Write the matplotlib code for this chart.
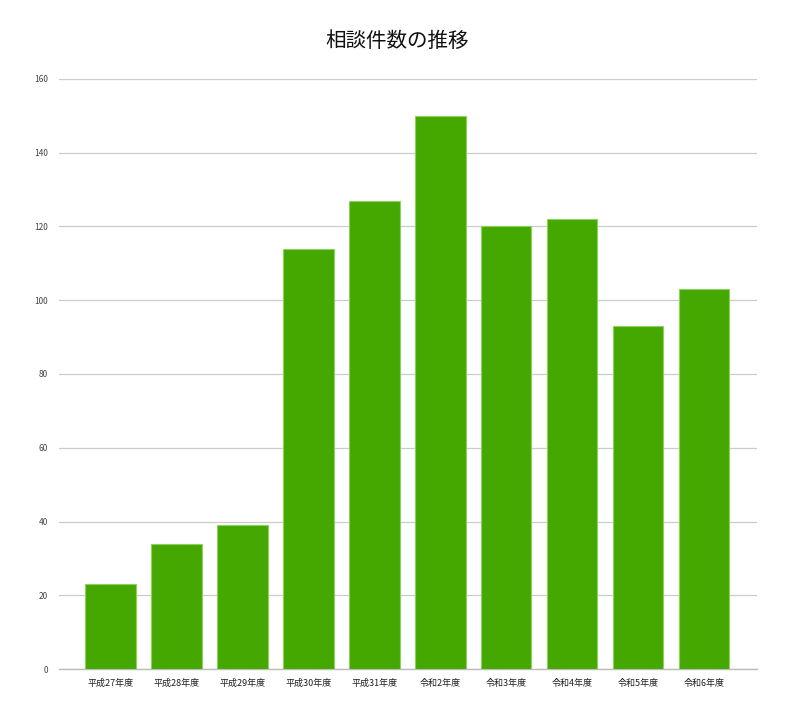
import matplotlib
matplotlib.use("Agg")
import matplotlib.pyplot as plt

plt.rcParams['font.family'] = ['Noto Sans CJK JP', 'DejaVu Sans']

years = ['平成27年度', '平成28年度', '平成29年度', '平成30年度', '平成31年度',
         '令和2年度', '令和3年度', '令和4年度', '令和5年度', '令和6年度']
counts = [23, 34, 39, 114, 127, 150, 120, 122, 93, 103]
yticks = [0, 20, 40, 60, 80, 100, 120, 140, 160]

fig = plt.figure(figsize=(7.94, 7.14), dpi=100)
ax = fig.add_axes([0.0743, 0.063, 0.8787, 0.8264])

x = range(len(years))
ax.bar(x, counts, width=0.77, color='#44a800', edgecolor='#8fd15c', linewidth=0.8, zorder=3)

ax.set_xlim(-0.78, 9.8)
ax.set_ylim(0, 160)
ax.set_yticks(yticks)
ax.set_xticks(list(x))
ax.set_xticklabels(years, fontsize=6.5, color='#222222')
ax.tick_params(axis='y', labelsize=6, colors='#444444', length=0, pad=8)
ax.tick_params(axis='x', length=0, pad=7)

ax.grid(axis='y', color='#cccccc', linewidth=0.9, zorder=0)
for s in ['top', 'right', 'left']:
    ax.spines[s].set_visible(False)
ax.spines['bottom'].set_color('#bbbbbb')
ax.spines['bottom'].set_linewidth(1)

fig.suptitle('相談件数の推移', fontsize=14.8, y=0.958, color='#111111', fontweight='normal')

fig.savefig('out.png', dpi=100)
